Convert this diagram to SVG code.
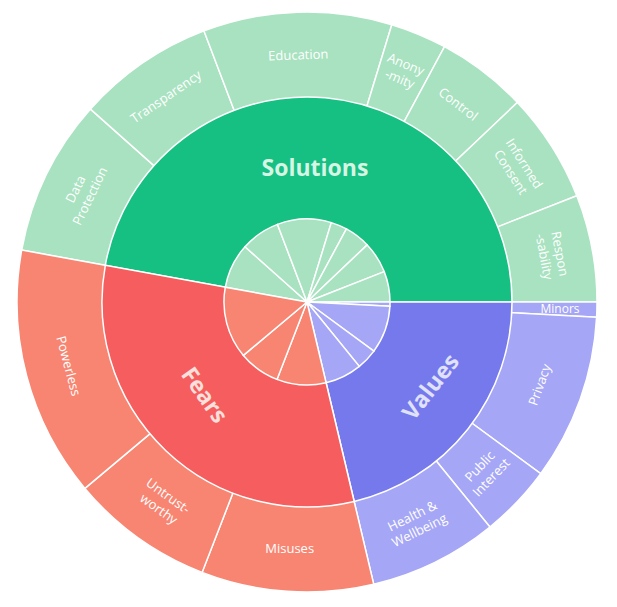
<svg xmlns="http://www.w3.org/2000/svg" width="617" height="607" viewBox="0 0 617 607">
<style>
path{stroke:#fff;stroke-width:1.5}
.sl{fill:#a8e2c0}.sd{fill:#16c083}
.vl{fill:#a5a6f5}.vd{fill:#7579ec}
.fl{fill:#f78572}.fd{fill:#f55d5f}
text{font-family:"Open Sans","DejaVu Sans",sans-serif;fill:#fff;font-size:13px;text-anchor:middle;dominant-baseline:middle}
.big{font-size:23px;font-weight:bold}
</style>
<rect width="617" height="607" fill="#fff"/>
<g id="outer">
<path class="sl" d="M307,302 L21.7,250.1 A290,290 0 0 1 90.5,109.1 Z"/>
<path class="sl" d="M307,302 L90.5,109.1 A290,290 0 0 1 204,30.9 Z"/>
<path class="sl" d="M307,302 L204,30.9 A290,290 0 0 1 391.8,24.7 Z"/>
<path class="sl" d="M307,302 L391.8,24.7 A290,290 0 0 1 444.5,46.7 Z"/>
<path class="sl" d="M307,302 L444.5,46.7 A290,290 0 0 1 517.4,102.4 Z"/>
<path class="sl" d="M307,302 L517.4,102.4 A290,290 0 0 1 576.8,195.7 Z"/>
<path class="sl" d="M307,302 L576.8,195.7 A290,290 0 0 1 597,302 Z"/>
<path class="vl" d="M307,302 L597,302 A290,290 0 0 1 596.6,317.2 Z"/>
<path class="vl" d="M307,302 L596.6,317.2 A290,290 0 0 1 540.7,473.7 Z"/>
<path class="vl" d="M307,302 L540.7,473.7 A290,290 0 0 1 489.9,527 Z"/>
<path class="vl" d="M307,302 L489.9,527 A290,290 0 0 1 373.7,584.2 Z"/>
<path class="fl" d="M307,302 L373.7,584.2 A290,290 0 0 1 202.1,572.4 Z"/>
<path class="fl" d="M307,302 L202.1,572.4 A290,290 0 0 1 84.9,488.4 Z"/>
<path class="fl" d="M307,302 L84.9,488.4 A290,290 0 0 1 21.7,250.1 Z"/>
</g>
<g id="middle">
<path class="sd" d="M307,302 L105.3,265.3 A205,205 0 0 1 512,302 Z"/>
<path class="vd" d="M307,302 L512,302 A205,205 0 0 1 354.2,501.5 Z"/>
<path class="fd" d="M307,302 L354.2,501.5 A205,205 0 0 1 105.3,265.3 Z"/>
</g>
<g id="inner">
<path class="sl" d="M307,302 L225.3,287.2 A83,83 0 0 1 245,246.8 Z"/>
<path class="sl" d="M307,302 L245,246.8 A83,83 0 0 1 277.5,224.4 Z"/>
<path class="sl" d="M307,302 L277.5,224.4 A83,83 0 0 1 331.3,222.6 Z"/>
<path class="sl" d="M307,302 L331.3,222.6 A83,83 0 0 1 346.4,228.9 Z"/>
<path class="sl" d="M307,302 L346.4,228.9 A83,83 0 0 1 367.2,244.9 Z"/>
<path class="sl" d="M307,302 L367.2,244.9 A83,83 0 0 1 384.2,271.6 Z"/>
<path class="sl" d="M307,302 L384.2,271.6 A83,83 0 0 1 390,302 Z"/>
<path class="vl" d="M307,302 L390,302 A83,83 0 0 1 389.9,306.3 Z"/>
<path class="vl" d="M307,302 L389.9,306.3 A83,83 0 0 1 373.9,351.1 Z"/>
<path class="vl" d="M307,302 L373.9,351.1 A83,83 0 0 1 359.3,366.4 Z"/>
<path class="vl" d="M307,302 L359.3,366.4 A83,83 0 0 1 326.1,382.8 Z"/>
<path class="fl" d="M307,302 L326.1,382.8 A83,83 0 0 1 277,379.4 Z"/>
<path class="fl" d="M307,302 L277,379.4 A83,83 0 0 1 243.4,355.4 Z"/>
<path class="fl" d="M307,302 L243.4,355.4 A83,83 0 0 1 225.3,287.2 Z"/>
</g>
<g id="labels">
<text class="big" x="315" y="170" fill="#d6f5e4" style="fill:#d6f5e4">Solutions</text>
<text class="big" transform="translate(432,388) rotate(-52)" style="fill:#e0e1fb">Values</text>
<text class="big" transform="translate(203,396) rotate(55)" style="fill:#fde0dc">Fears</text>
<text transform="translate(84.1,193.3) rotate(-64)"><tspan x="0" y="-8">Data</tspan><tspan x="0" y="8">Protection</tspan></text>
<text transform="translate(166.5,97.6) rotate(-34.5)">Transparency</text>
<text transform="translate(298.3,56) rotate(-2)">Education</text>
<text transform="translate(402.3,73) rotate(22.6)"><tspan x="0" y="-8">Anony</tspan><tspan x="0" y="8">-mity</tspan></text>
<text transform="translate(457.6,105) rotate(37.4)">Control</text>
<text transform="translate(516.2,168.7) rotate(57.5)"><tspan x="0" y="-8">Informed</tspan><tspan x="0" y="8">Consent</tspan></text>
<text transform="translate(550.6,255.5) rotate(79.2)"><tspan x="0" y="-8">Respon</tspan><tspan x="0" y="8">-sability</tspan></text>
<text x="560" y="310" style="font-size:12px">Minors</text>
<text transform="translate(540.6,385.2) rotate(-70.4)">Privacy</text>
<text transform="translate(486.6,473) rotate(-46.4)"><tspan x="0" y="-8">Public</tspan><tspan x="0" y="8">Interest</tspan></text>
<text transform="translate(416.5,524.5) rotate(-26.2)"><tspan x="0" y="-8">Health &amp;</tspan><tspan x="0" y="8">Wellbeing</tspan></text>
<text transform="translate(289.7,550) rotate(0)">Misuses</text>
<text transform="translate(162.6,503.6) rotate(35.6)"><tspan x="0" y="-8">Untrust-</tspan><tspan x="0" y="8">worthy</tspan></text>
<text transform="translate(67.5,366.2) rotate(75)">Powerless</text>
</g>
</svg>
